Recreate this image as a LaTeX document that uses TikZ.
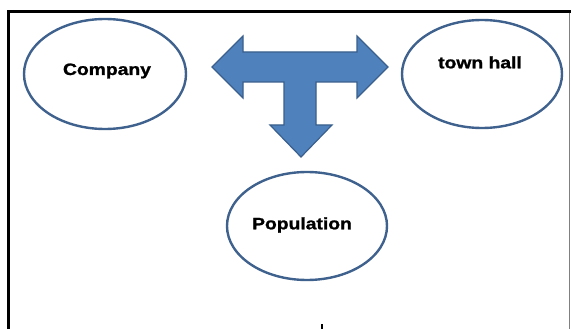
\documentclass[tikz,border=0pt]{standalone}
\usepackage{fontspec}
\setmainfont{Liberation Sans}[BoldFeatures={FakeBold=1.2}]
\usetikzlibrary{shapes.geometric}
\definecolor{ellline}{HTML}{3F618D}
\definecolor{arrfill}{HTML}{4F81BD}
\definecolor{arrline}{HTML}{3A5F8C}
\begin{document}
\begin{tikzpicture}[x=1pt,y=-1pt,
  oval/.style={ellipse, draw=ellline, line width=2.4pt, fill=white, inner sep=0pt},
  lbl/.style={anchor=base, inner sep=0pt, font=\fontsize{16.5}{18}\selectfont\bfseries},
  bigarrow/.style={fill=arrfill, draw=arrline, line width=1.2pt, line join=miter}]
\useasboundingbox (0,0) rectangle (571,329);
\fill[white] (0,0) rectangle (571,329);
% frame
\draw[line width=2.7pt, line cap=rect] (8.7,331) -- (8.7,11.3) -- (572,11.3);
\draw[gray, line width=1.2pt] (569.5,12.6) -- (569.5,331);
% ellipses
\node[oval, minimum width=162pt, minimum height=110pt] (company) at (105,74) {};
\node[oval, minimum width=160pt, minimum height=108pt] (townhall) at (482,74) {};
\node[oval, minimum width=160pt, minimum height=108pt] (population) at (307,226) {};
% labels
\node[lbl] (tcompany) at (107,75) {\scalebox{1.17}[1]{Company}};
\node[lbl] (ttownhall) at (480,68.3) {\scalebox{1.17}[1]{town hall}};
\node[lbl] (tpopulation) at (302,229.3) {\scalebox{1.17}[1]{Population}};
% T-shaped three-way arrow
\draw[bigarrow] (212,67) -- (243,36) -- (243,52) -- (357,52) -- (357,36) -- (388,67)
  -- (357,98) -- (357,82) -- (316,82) -- (316,125) -- (332,125) -- (301,157)
  -- (270,125) -- (284,125) -- (284,82) -- (243,82) -- (243,98) -- cycle;
% small mark at bottom
\coordinate (marktop) at (321.7,324);
\coordinate (markbot) at (321.7,330);
\draw[line width=1.6pt] (marktop) -- (markbot);
\end{tikzpicture}
\end{document}
